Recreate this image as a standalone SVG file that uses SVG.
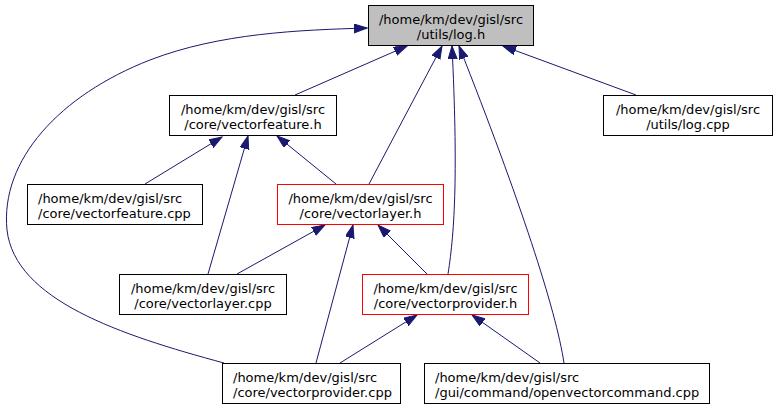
<svg xmlns="http://www.w3.org/2000/svg" width="777" height="409" viewBox="0 0 777 409">
<style>
.box{fill:#ffffff;stroke:#000000;stroke-width:1}
.root{fill:#bfbfbf;stroke:#000000;stroke-width:1}
.red{fill:#ffffff;stroke:#ff0000;stroke-width:1}
text{font-family:"DejaVu Sans",sans-serif;font-size:13px;fill:#000000}
.c{text-anchor:middle}
.l{text-anchor:start}
.e{fill:none;stroke:#191970;stroke-width:1;marker-end:url(#ah)}
</style>
<defs>
<marker id="ah" markerUnits="userSpaceOnUse" markerWidth="14" markerHeight="10" refX="13" refY="4.5" orient="auto">
<path d="M0,0 L13,4.5 L0,9 z" fill="#191970" stroke="#191970" stroke-width="1"/>
</marker>
</defs>
<rect width="777" height="409" fill="#ffffff"/>
<g id="edges">
<path class="e" d="M295,95 L407,46"/>
<path class="e" d="M369,184 L442,46"/>
<path class="e" d="M448,274 C455,230 458,170 452,46"/>
<path class="e" d="M564,363 C556,310 520,200 459,46"/>
<path class="e" d="M636,95 L503,46"/>
<path class="e" d="M224,363 C120,335 15,300 7,230 C0,160 60,95 150,60 C220,33 300,30 367,28"/>
<path class="e" d="M145,184 L222,137"/>
<path class="e" d="M208,274 L248,136"/>
<path class="e" d="M336,184 L277,136"/>
<path class="e" d="M237,274 L325,225"/>
<path class="e" d="M316,363 L353,225"/>
<path class="e" d="M427,274 L378,225"/>
<path class="e" d="M340,363 L417,315"/>
<path class="e" d="M540,363 L472,315"/>
</g>
<g id="log_h">
<rect class="root" x="368.5" y="5.5" width="165" height="40"/>
<text class="c" x="451" y="24">/home/km/dev/gisl/src</text>
<text class="c" x="451" y="39">/utils/log.h</text>
</g>
<g id="vectorfeature_h">
<rect class="box" x="169.5" y="95.5" width="167" height="40"/>
<text class="c" x="253" y="114">/home/km/dev/gisl/src</text>
<text class="c" x="253" y="129">/core/vectorfeature.h</text>
</g>
<g id="vectorfeature_cpp">
<rect class="box" x="27.5" y="184.5" width="175" height="40"/>
<text class="l" x="38" y="203">/home/km/dev/gisl/src</text>
<text class="l" x="38" y="218">/core/vectorfeature.cpp</text>
</g>
<g id="vectorlayer_h">
<rect class="red" x="277.5" y="184.5" width="166" height="40"/>
<text class="c" x="360.5" y="203">/home/km/dev/gisl/src</text>
<text class="c" x="360.5" y="218">/core/vectorlayer.h</text>
</g>
<g id="vectorlayer_cpp">
<rect class="box" x="119.5" y="274.5" width="167" height="40"/>
<text class="c" x="203" y="293">/home/km/dev/gisl/src</text>
<text class="c" x="203" y="308">/core/vectorlayer.cpp</text>
</g>
<g id="vectorprovider_h">
<rect class="red" x="362.5" y="274.5" width="166" height="40"/>
<text class="c" x="445.5" y="293">/home/km/dev/gisl/src</text>
<text class="c" x="445.5" y="308">/core/vectorprovider.h</text>
</g>
<g id="vectorprovider_cpp">
<rect class="box" x="222.5" y="363.5" width="178" height="40"/>
<text class="l" x="233" y="382">/home/km/dev/gisl/src</text>
<text class="l" x="233" y="397">/core/vectorprovider.cpp</text>
</g>
<g id="openvectorcommand_cpp">
<rect class="box" x="424.5" y="363.5" width="285" height="40"/>
<text class="l" x="435" y="382">/home/km/dev/gisl/src</text>
<text class="l" x="435" y="397">/gui/command/openvectorcommand.cpp</text>
</g>
<g id="log_cpp">
<rect class="box" x="603.5" y="95.5" width="169" height="40"/>
<text class="c" x="688" y="114">/home/km/dev/gisl/src</text>
<text class="c" x="688" y="129">/utils/log.cpp</text>
</g>
</svg>
